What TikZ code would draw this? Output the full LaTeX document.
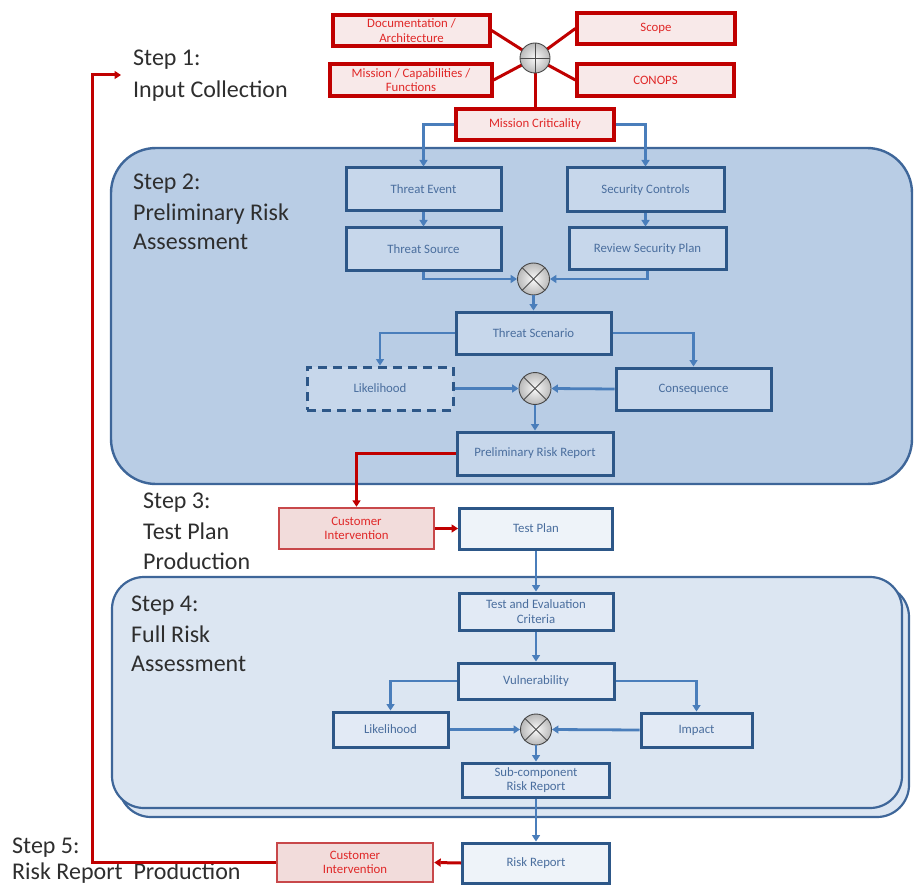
\documentclass[tikz,border=0pt]{standalone}
\usepackage{fontspec}
\setmainfont{Carlito}
\usetikzlibrary{arrows.meta,shadings}

\definecolor{regionA}{HTML}{B9CDE5}
\definecolor{regionB}{HTML}{DCE6F2}
\definecolor{regionline}{HTML}{3E6699}
\definecolor{boxline}{HTML}{2D5788}
\definecolor{boxfillA}{HTML}{C7D7EB}
\definecolor{boxfillB}{HTML}{E2EAF5}
\definecolor{boxfillC}{HTML}{EEF3F9}
\definecolor{txtblue}{HTML}{4A6E9E}
\definecolor{lineblue}{HTML}{4A7EBB}
\definecolor{darkred}{HTML}{C00000}
\definecolor{pinkA}{HTML}{F8E9E9}
\definecolor{pinkB}{HTML}{F2DCDB}
\definecolor{custline}{HTML}{C8484A}
\definecolor{txtred}{HTML}{E02828}
\definecolor{steptxt}{HTML}{2E2E2E}

\newcommand\boxfont{\fontsize{12.8}{14.5}\selectfont}
\newcommand\stepfont{\fontsize{24}{30}\selectfont}

\tikzset{
  bluebox/.style={draw=boxline, line width=3pt, text=txtblue, font=\boxfont,
    align=center, inner sep=1pt},
  boxA/.style={bluebox, fill=boxfillA},
  boxB/.style={bluebox, fill=boxfillB},
  boxC/.style={bluebox, fill=boxfillC},
  inbox/.style={draw=darkred, line width=3.2pt, fill=pinkA, text=txtred,
    font=\boxfont, align=center, inner sep=1pt},
  custbox/.style={draw=custline, line width=2.4pt, fill=pinkB, text=txtred,
    font=\boxfont, align=center, inner sep=1pt},
  conn/.style={draw=lineblue, line width=2.8pt,
    -{Triangle[length=6.5pt,width=8pt]}},
  redconn/.style={draw=darkred, line width=3pt,
    -{Triangle[length=6.5pt,width=8pt]}},
  redline/.style={draw=darkred, line width=3pt},
  joint/.style={circle, minimum size=32pt, inner sep=0pt, shading=radial,
    inner color=gray!4, outer color=gray!55, draw=gray!55!black, line width=0.9pt},
  crossline/.style={draw=black!70, line width=0.9pt},
  steplabel/.style={anchor=base west, font=\stepfont, text=steptxt, inner sep=0pt},
}

\begin{document}
\begin{tikzpicture}[x=1pt,y=-1pt]
\useasboundingbox (0,0) rectangle (918,885);

% step regions
\draw[fill=regionA, draw=regionline, line width=2.4pt, rounded corners=45pt]
  (111,148) rectangle (912,484);
\draw[fill=regionB, draw=regionline, line width=2.2pt, rounded corners=32pt]
  (119,585) rectangle (909,817);
\draw[fill=regionB, draw=regionline, line width=2.2pt, rounded corners=32pt]
  (112,577) rectangle (902,808);

% step labels
\node[steplabel] (s1a) at (133,66) {Step 1:};
\node[steplabel] (s1b) at (133,98) {Input Collection};
\node[steplabel] (s2a) at (133,190) {Step 2:};
\node[steplabel] (s2b) at (133,221) {Preliminary Risk};
\node[steplabel] (s2c) at (133,250) {Assessment};
\node[steplabel] (s3a) at (143,508) {Step 3:};
\node[steplabel] (s3b) at (143,539) {Test Plan};
\node[steplabel] (s3c) at (143,569) {Production};
\node[steplabel] (s4a) at (131,611) {Step 4:};
\node[steplabel] (s4b) at (131,642) {Full Risk};
\node[steplabel] (s4c) at (131,671) {Assessment};
\node[steplabel] (s5a) at (12,853) {Step 5:};
\node[steplabel] (s5b) at (12,879) {Risk Report\ \ Production};

% step 1: inputs
\node[inbox, minimum width=157pt, minimum height=31pt] (doc) at (411.5,30.5)
  {Documentation /\\Architecture};
\node[inbox, minimum width=162pt, minimum height=32pt] (mis) at (411,80)
  {Mission / Capabilities /\\Functions};
\node[inbox, minimum width=158pt, minimum height=31pt] (scope) at (656,28.5) {Scope};
\node[inbox, minimum width=157pt, minimum height=32pt] (conops) at (655.5,80) {CONOPS};
\coordinate (pluspos) at (535,58);
\draw[redline] (doc.east) -- (pluspos);
\draw[redline] (mis.east) -- (pluspos);
\draw[redline] (scope.west) -- (pluspos);
\draw[redline] (conops.west) -- (pluspos);
\node[inbox, minimum width=158pt, minimum height=31pt] (crit) at (535,124.5)
  {Mission Criticality};
\draw[redline] (pluspos) -- (crit.north);
\node[joint, minimum size=30pt] (plus) at (pluspos) {};
\draw[crossline] (plus.north) -- (plus.south);
\draw[crossline] (plus.west) -- (plus.east);

% step 2: preliminary risk assessment
\node[boxA, minimum width=155pt, minimum height=43pt] (tevent) at (423.5,189.5) {Threat Event};
\node[boxA, minimum width=155pt, minimum height=43pt] (tsource) at (423.5,249.5) {Threat Source};
\node[boxA, minimum width=157pt, minimum height=44pt] (secctl) at (645.5,190) {Security Controls};
\node[boxA, minimum width=157pt, minimum height=42pt] (review) at (647.5,249) {Review Security Plan};
\node[joint] (mult1) at (533.5,279) {};
\draw[crossline] (mult1.north west) -- (mult1.south east);
\draw[crossline] (mult1.north east) -- (mult1.south west);
\node[boxA, minimum width=155pt, minimum height=42pt] (tscen) at (533.5,333) {Threat Scenario};
\node[boxA, dashed, dash pattern=on 9pt off 6pt, minimum width=146pt, minimum height=43pt]
  (like1) at (380,388.5) {Likelihood};
\node[boxA, minimum width=155pt, minimum height=42pt] (conseq) at (693.5,389) {Consequence};
\node[joint] (mult2) at (535,388.5) {};
\draw[crossline] (mult2.north west) -- (mult2.south east);
\draw[crossline] (mult2.north east) -- (mult2.south west);
\node[boxA, minimum width=156pt, minimum height=43pt] (prr) at (535,453.5) {Preliminary Risk Report};

\draw[conn] (crit.west) -| (tevent.north);
\draw[conn] (crit.east) -| (secctl.north);
\draw[conn] (tevent) -- (tsource);
\draw[conn] (secctl.south) -- (secctl.south |- review.north);
\draw[conn] (tsource.south) |- (mult1.west);
\draw[conn] (review.south) |- (mult1.east);
\draw[conn] (mult1.south) -- (mult1.south |- tscen.north);
\draw[conn] (tscen.west) -| (like1.north);
\draw[conn] (tscen.east) -| (conseq.north);
\draw[conn] (like1.east) -- (mult2.west);
\draw[conn] (conseq.west) -- (mult2.east);
\draw[conn] (mult2.south) -- (prr.north);

% step 3: test plan production
\node[custbox, minimum width=155pt, minimum height=41pt] (cust1) at (356.5,528.5)
  {Customer\\Intervention};
\node[boxC, minimum width=153pt, minimum height=41pt] (tplan) at (536,528.5) {Test Plan};
\draw[redconn] (prr.west) -| (cust1.north);
\draw[redconn] (cust1.east) -- (tplan.west);

% step 4: full risk assessment
\node[boxB, minimum width=154pt, minimum height=37pt] (tec) at (536,611.5)
  {Test and Evaluation\\Criteria};
\node[boxB, minimum width=156pt, minimum height=36pt] (vuln) at (536,681) {Vulnerability};
\node[boxB, minimum width=115pt, minimum height=35pt] (like2) at (390.5,729.5) {Likelihood};
\node[boxB, minimum width=111pt, minimum height=34pt] (impact) at (696.5,730) {Impact};
\node[joint, minimum size=31pt] (mult3) at (536,729.5) {};
\draw[crossline] (mult3.north west) -- (mult3.south east);
\draw[crossline] (mult3.north east) -- (mult3.south west);
\node[boxB, minimum width=147pt, minimum height=34pt] (subc) at (536,780)
  {Sub-component\\Risk Report};

\draw[conn] (tplan.south) -- (tec.north);
\draw[conn] (tec.south) -- (vuln.north);
\draw[conn] (vuln.west) -| (like2.north);
\draw[conn] (vuln.east) -| (impact.north);
\draw[conn] (like2.east) -- (mult3.west);
\draw[conn] (impact.west) -- (mult3.east);
\draw[conn] (mult3.south) -- (subc.north);

% step 5: risk report production
\node[boxC, minimum width=147pt, minimum height=40pt] (rr) at (536,863) {Risk Report};
\node[custbox, minimum width=156pt, minimum height=39pt] (cust2) at (355,862.5)
  {Customer\\Intervention};
\draw[conn] (subc.south) -- (rr.north);
\draw[redconn] (rr.west) -- (cust2.east);

% feedback loop back to input collection
\coordinate (fbturn) at (92,75);
\coordinate (fbtip) at (121,75);
\draw[redconn] (cust2.west) -| (fbturn) -- (fbtip);
\end{tikzpicture}
\end{document}
